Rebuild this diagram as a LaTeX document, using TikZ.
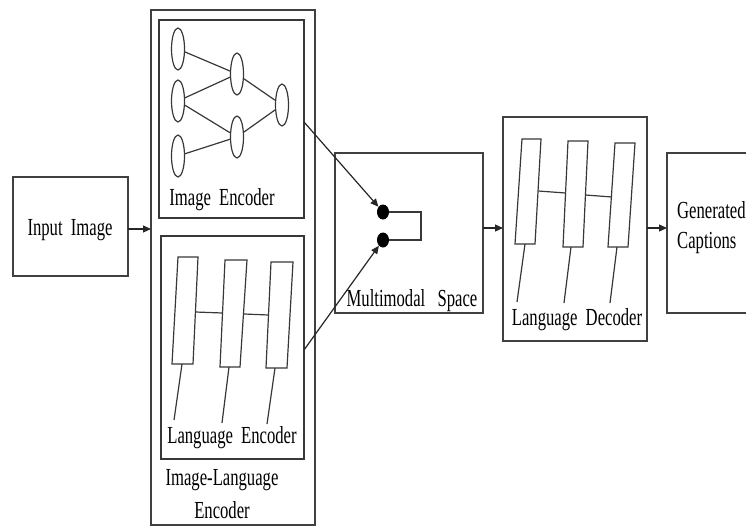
\documentclass[tikz,border=0pt]{standalone}
\usepackage{fontspec}
\setmainfont[FakeStretch=0.68]{Liberation Serif}
\usetikzlibrary{arrows.meta,shapes.geometric}
\begin{document}
\begin{tikzpicture}[x=1pt,y=-1pt,
  frame/.style={draw=black!75,line width=1.5pt},
  boxln/.style={draw=black!78,line width=1.3pt},
  wire/.style={draw=black!78,line width=1.2pt},
  neuron/.style={ellipse,draw=black!78,line width=1.2pt,fill=white,minimum width=13pt,minimum height=42pt,inner sep=0pt},
  flow/.style={draw=black!85,line width=1.2pt,-{Triangle[length=8pt,width=7pt]}},
  lbl/.style={font=\fontsize{24.5}{33}\selectfont,anchor=base,inner sep=0pt,text=black},
  dot/.style={ellipse,fill=black,minimum width=12pt,minimum height=15pt,inner sep=0pt}
]
\useasboundingbox (0,0) rectangle (746,527);
\begin{scope}
\clip (0,0) rectangle (746,527);

% input block
\draw[frame] (13,177) rectangle (128,276);
\coordinate (inR) at (128,229);
\node[lbl] (inlbl) at (70,235) {Input\,\,Image};

% image-language encoder frame
\draw[frame] (151,10) rectangle (315,525);
\coordinate (encL) at (151,229);
\node[lbl,align=center] (ilenc) at (222,518) {Image-Language\\Encoder};

% image encoder
\draw[boxln] (159,20) rectangle (304,218);
\coordinate (imgR) at (304,122);
\node[neuron] (a1) at (178,49) {};
\node[neuron] (a2) at (178,101) {};
\node[neuron] (a3) at (178,156) {};
\node[neuron] (b1) at (237,74) {};
\node[neuron] (b2) at (237,137) {};
\node[neuron] (c1) at (282,105) {};
\draw[wire] (a1) -- (b1);
\draw[wire] (a2) -- (b1);
\draw[wire] (a2) -- (b2);
\draw[wire] (a3) -- (b2);
\draw[wire] (b1) -- (c1);
\draw[wire] (b2) -- (c1);
\node[lbl] (imglbl) at (222,205) {Image\,\,Encoder};

% language encoder
\draw[boxln] (161,236) rectangle (304,459);
\coordinate (lngR) at (304,350);
\draw[wire] (178,257) -- (198,257) -- (193,364) -- (172,364) -- cycle;
\draw[wire] (225,260) -- (247,260) -- (240,367) -- (220,367) -- cycle;
\draw[wire] (271,262) -- (293,262) -- (287,368) -- (266,368) -- cycle;
\draw[wire] (195.5,312) -- (222.5,313);
\draw[wire] (244,314) -- (268.5,315);
\draw[wire] (182,364) -- (174,420);
\draw[wire] (229,367) -- (222,423);
\draw[wire] (275,368) -- (267,424);
\node[lbl] (lenclbl) at (232,443) {Language\,\,Encoder};

% multimodal space
\draw[frame] (335,153) rectangle (483,313);
\node[dot] (d1) at (383,212) {};
\node[dot] (d2) at (383,240) {};
\draw[wire] (d1.east) -- (421,212) -- (421,240) -- (d2.east);
\node[lbl] (mmlbl) at (412,306) {Multimodal\,\,\,Space};
\coordinate (mmR) at (483,228);

% language decoder
\draw[frame] (503,117) rectangle (647,341);
\coordinate (decL) at (503,228);
\coordinate (decR) at (647,228);
\draw[wire] (522,139) -- (541,139) -- (535,244) -- (515,244) -- cycle;
\draw[wire] (568,141) -- (588,141) -- (583,247) -- (563,247) -- cycle;
\draw[wire] (615,143) -- (635,143) -- (628,247) -- (608,247) -- cycle;
\draw[wire] (538.5,191) -- (565.5,193);
\draw[wire] (585.5,195) -- (612,197);
\draw[wire] (525,244) -- (517,302);
\draw[wire] (571,247) -- (564,303);
\draw[wire] (617,247) -- (610,303);
\node[lbl] (declbl) at (577,325) {Language\,\,Decoder};

% output block
\draw[frame] (667,153) rectangle (780,313);
\coordinate (outL) at (667,228);
\node[lbl,anchor=base west,align=left,font=\fontsize{24.5}{30}\selectfont] (outlbl) at (677,248) {Generated\\Captions};

% data flow
\draw[flow] (inR) -- (encL);
\draw[flow] (imgR) -- (d1);
\draw[flow] (lngR) -- (d2);
\draw[flow] (mmR) -- (decL);
\draw[flow] (decR) -- (outL);
\end{scope}
\end{tikzpicture}
\end{document}
